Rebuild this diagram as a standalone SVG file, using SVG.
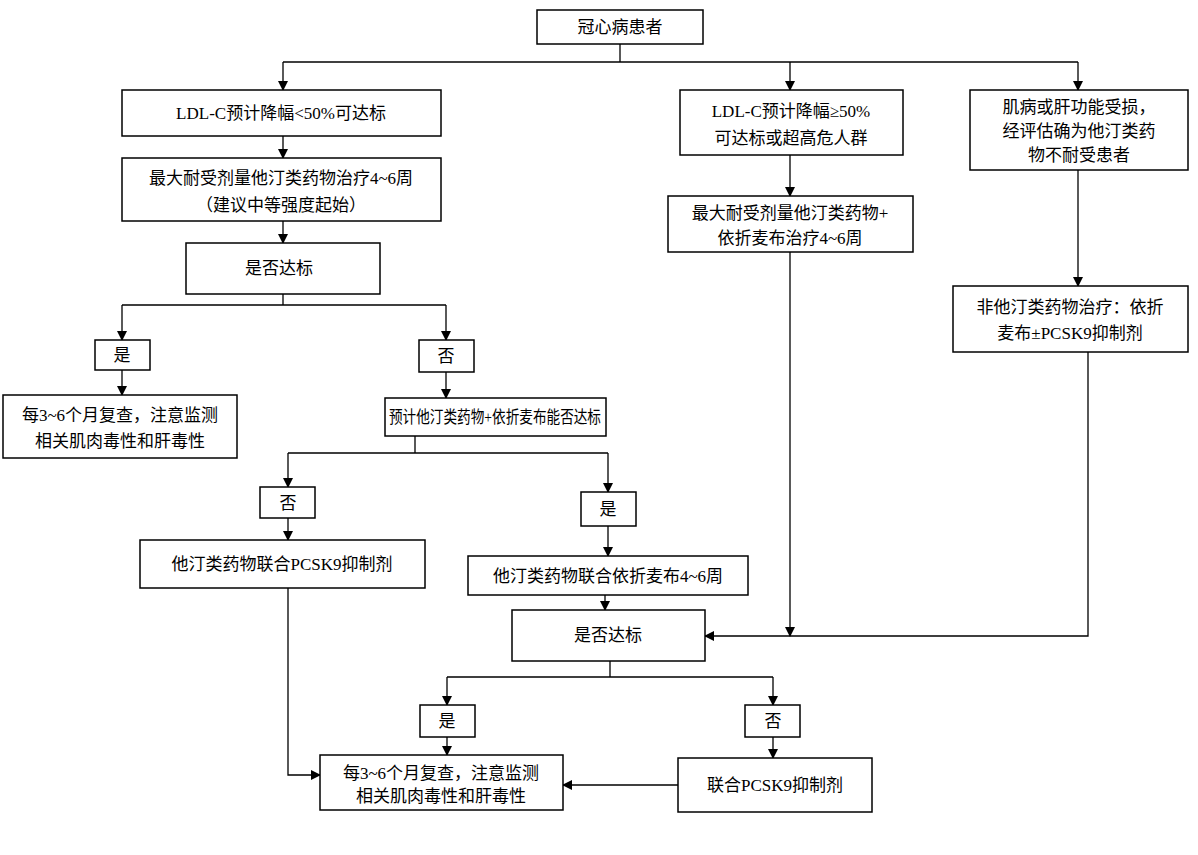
<svg xmlns="http://www.w3.org/2000/svg" width="1198" height="855" viewBox="0 0 1198 855">
<defs><marker id="a" markerWidth="10" markerHeight="10" refX="9" refY="5" orient="auto" markerUnits="userSpaceOnUse"><path d="M0,0 L10,5 L0,10 Z" fill="#000"/></marker></defs>
<style>
rect{fill:#fff;stroke:#000;stroke-width:1.5}
text{font-family:"Liberation Serif","Noto Sans CJK SC",serif;font-size:17px;text-anchor:middle;fill:#000}
#c path{fill:none;stroke:#000;stroke-width:1.3}
#c path.a{marker-end:url(#a)}
</style>
<rect x="0" y="0" width="1198" height="855" style="stroke:none"/>
<g id="c">
<path d="M620,44 V62"/><path d="M283,62 H1078"/>
<path class="a" d="M283,62 V90"/><path class="a" d="M790,62 V90"/><path class="a" d="M1078,62 V90"/>
<path class="a" d="M283,136 V158"/><path class="a" d="M283,221 V243"/>
<path d="M283,294 V305 M122,305 H446"/><path class="a" d="M122,305 V340"/><path class="a" d="M446,305 V340"/>
<path class="a" d="M122,370 V395"/><path class="a" d="M446,372 V398"/>
<path d="M415,436 V453 M288,453 H608"/><path class="a" d="M288,453 V487"/><path class="a" d="M608,453 V492"/>
<path class="a" d="M288,518 V540"/><path class="a" d="M608,526 V556"/>
<path class="a" d="M288,588 V775 H320"/>
<path class="a" d="M605,595 V610"/>
<path class="a" d="M790,252 V636"/><path class="a" d="M1088,352 V636 H705"/>
<path class="a" d="M1078,170 V286"/><path class="a" d="M790,155 V196"/>
<path d="M610,661 V677 M447,677 H773"/><path class="a" d="M447,677 V705"/><path class="a" d="M773,677 V705"/>
<path class="a" d="M447,737 V755"/><path class="a" d="M773,737 V758"/>
<path class="a" d="M678,785 H563"/>
</g>
<g id="n1"><rect x="537" y="10" width="166" height="34"/><text x="620" y="33">冠心病患者</text></g>
<g id="n2"><rect x="122" y="90" width="319" height="46"/><text x="281" y="119">LDL-C预计降幅&lt;50%可达标</text></g>
<g id="n3"><rect x="122" y="158" width="319" height="63"/><text x="281" y="184">最大耐受剂量他汀类药物治疗4~6周</text><text x="281" y="211">（建议中等强度起始）</text></g>
<g id="n4"><rect x="186" y="243" width="194" height="51"/><text x="279" y="274">是否达标</text></g>
<g id="n5"><rect x="95" y="340" width="55" height="30"/><text x="122" y="361">是</text></g>
<g id="n6"><rect x="3" y="395" width="234" height="63"/><text x="120" y="421">每3~6个月复查，注意监测</text><text x="120" y="447">相关肌肉毒性和肝毒性</text></g>
<g id="n7"><rect x="419" y="340" width="55" height="32"/><text x="446" y="362">否</text></g>
<g id="n8"><rect x="385" y="398" width="221" height="38"/><text x="495" y="423" textLength="212" lengthAdjust="spacingAndGlyphs">预计他汀类药物+依折麦布能否达标</text></g>
<g id="n9"><rect x="260" y="487" width="55" height="31"/><text x="288" y="509">否</text></g>
<g id="n10"><rect x="140" y="540" width="285" height="48"/><text x="282" y="570">他汀类药物联合PCSK9抑制剂</text></g>
<g id="n11"><rect x="581" y="492" width="55" height="34"/><text x="608" y="515">是</text></g>
<g id="n12"><rect x="468" y="556" width="280" height="39"/><text x="608" y="582">他汀类药物联合依折麦布4~6周</text></g>
<g id="n13"><rect x="512" y="610" width="193" height="51"/><text x="608" y="641">是否达标</text></g>
<g id="n14"><rect x="420" y="705" width="55" height="32"/><text x="447" y="727">是</text></g>
<g id="n15"><rect x="745" y="705" width="55" height="32"/><text x="773" y="727">否</text></g>
<g id="n16"><rect x="320" y="755" width="243" height="55"/><text x="441" y="779">每3~6个月复查，注意监测</text><text x="441" y="802">相关肌肉毒性和肝毒性</text></g>
<g id="n17"><rect x="678" y="758" width="194" height="54"/><text x="775" y="791">联合PCSK9抑制剂</text></g>
<g id="n18"><rect x="680" y="90" width="223" height="65"/><text x="791" y="117">LDL-C预计降幅≥50%</text><text x="791" y="144">可达标或超高危人群</text></g>
<g id="n19"><rect x="668" y="196" width="245" height="56"/><text x="790" y="219">最大耐受剂量他汀类药物+</text><text x="790" y="244">依折麦布治疗4~6周</text></g>
<g id="n20"><rect x="970" y="90" width="218" height="80"/><text x="1079" y="113">肌病或肝功能受损，</text><text x="1079" y="137">经评估确为他汀类药</text><text x="1079" y="161">物不耐受患者</text></g>
<g id="n21"><rect x="953" y="286" width="235" height="66"/><text x="1070" y="313">非他汀类药物治疗：依折</text><text x="1070" y="339">麦布±PCSK9抑制剂</text></g>
</svg>
